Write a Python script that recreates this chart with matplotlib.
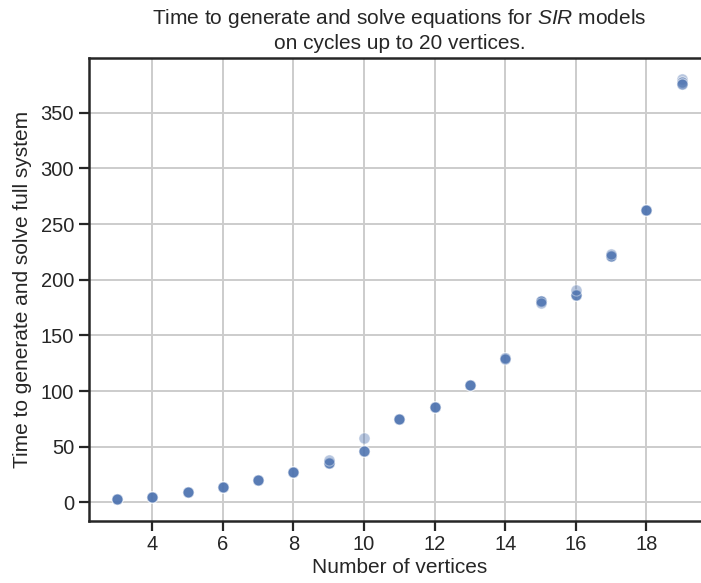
import numpy as np
import matplotlib
matplotlib.use("Agg")
import matplotlib.pyplot as plt

# five runs per cycle size
n_vertices = [3] * 5 + [4] * 5 + [5] * 5 + [6] * 5 + [7] * 5 + [8] * 5 + \
    [9] * 5 + [10] * 5 + [11] * 5 + [12] * 5 + [13] * 5 + [14] * 5 + \
    [15] * 5 + [16] * 5 + [17] * 5 + [18] * 5 + [19] * 5
times = [3.3, 3.3, 3.3, 3.3, 3.3,
         5.0, 5.0, 5.0, 5.0, 5.0,
         9.0, 9.0, 9.0, 9.0, 9.0,
         13.5, 13.5, 13.5, 13.5, 13.5,
         20.1, 20.1, 20.1, 20.1, 20.1,
         27.5, 27.5, 27.5, 27.5, 27.5,
         35.1, 35.1, 35.1, 35.1, 38.0,
         46.1, 46.1, 46.1, 46.1, 57.5,
         74.6, 74.6, 74.6, 74.6, 74.6,
         85.9, 85.9, 85.9, 85.9, 85.9,
         105.9, 105.9, 105.9, 105.9, 105.9,
         130.1, 130.1, 130.1, 130.1, 128.5,
         180.9, 180.9, 180.9, 180.9, 179.5,
         186.3, 186.3, 186.3, 186.3, 191.0,
         221.5, 221.5, 221.5, 221.5, 223.0,
         262.6, 262.6, 262.6, 262.6, 262.6,
         380.5, 378.0, 378.0, 376.0, 375.5]

x_ticks = [4, 6, 8, 10, 12, 14, 16, 18]
y_ticks = [0, 50, 100, 150, 200, 250, 300, 350]

plt.rcParams['font.family'] = ['Liberation Sans', 'DejaVu Sans']
plt.rcParams['mathtext.fontset'] = 'custom'
plt.rcParams['mathtext.it'] = 'Liberation Sans:italic'
plt.rcParams['mathtext.rm'] = 'Liberation Sans'

fig = plt.figure(figsize=(7.01, 5.83), dpi=100)
ax = fig.add_axes([0.1265, 0.1069, 0.8863, 0.7931])

ax.scatter(n_vertices, times, s=64, color='#4c72b0', alpha=0.4,
           edgecolors='white', linewidths=0.8, zorder=3)

ax.set_xlim(2.2, 19.8)
ax.set_ylim(-16.4, 399)
ax.set_xticks(x_ticks)
ax.set_yticks(y_ticks)
ax.grid(True, color='#cccccc', linewidth=1.4)
ax.set_axisbelow(True)
for s in ax.spines.values():
    s.set_linewidth(1.8)
    s.set_color('#262626')
ax.tick_params(labelsize=14.5, length=7, width=1.6, color='#262626',
               labelcolor='#262626')

ax.set_xlabel('Number of vertices', fontsize=15, color='#262626', labelpad=3)
ax.set_ylabel('Time to generate and solve full system', fontsize=15,
              color='#262626', labelpad=6)
ax.set_title('Time to generate and solve equations for $SIR$ models\n'
             'on cycles up to 20 vertices.', fontsize=15, color='#262626',
             pad=7, linespacing=1.25)

fig.savefig('out.png', dpi=100)
